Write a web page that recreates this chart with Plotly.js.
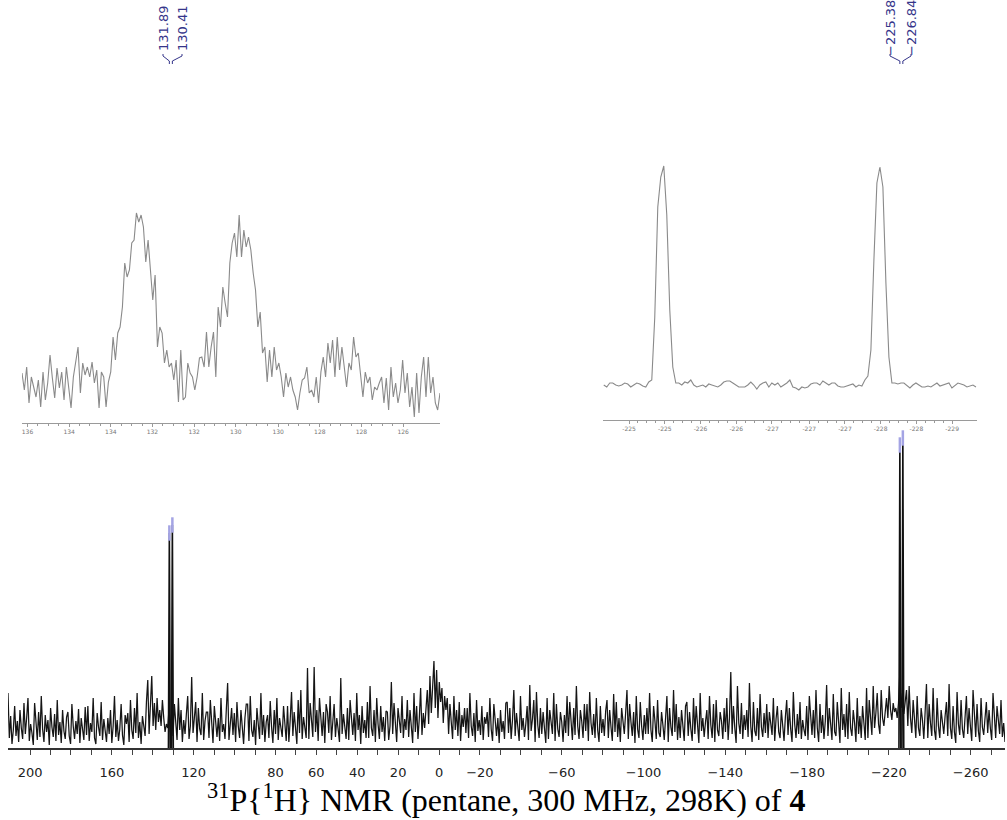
<!DOCTYPE html>
<html><head><meta charset="utf-8">
<script src="https://cdn.plot.ly/plotly-3.0.1.min.js"></script>
<style>html,body{margin:0;padding:0;background:#fff}#chart{width:1007px;height:820px}</style>
</head><body><div id="chart"></div>
<script>
// ---------- main spectrum ----------
const mainPpmStart = 210.8, mainPpmEnd = -276.8;
const mainIntensity = [
55,10,32,4,18,42,12,27,6,38,20,9,45,14,30, 50,7,24,15,3,45,28,8,36,11,52,19,6,33,16,
28,3,40,21,11,34,7,48,13,26,5,38,17,9,31, 36,12,4,44,22,9,27,14,39,5,30,18,8,41,13,
42,7,25,16,50,10,4,35,21,12,46,8,29,17,6, 30,14,38,5,22,52,11,28,7,19,44,13,3,33,24,
35,6,48,18,9,40,15,55,10,26,4,32,20,12,46, 68,14,40,72,22,45,18,50,26,38,22,48,30,16,24,
20,40,16,35,12,44,24,8,50,18,38,6,28,14,34, 52,9,22,71,15,30,46,6,40,19,13,55,8,27,36,
36,10,48,20,5,42,28,11,30,7,50,16,24,9,38, 65,8,25,40,13,35,6,46,22,10,38,15,4,30,44,
44,7,52,18,11,28,3,40,24,9,55,13,33,6,26, 33,10,47,21,5,38,14,50,8,30,17,11,42,25,7,
42,6,28,56,12,36,20,4,48,15,58,9,31,22,10, 80,9,45,24,11,81,16,38,7,50,27,12,36,5,44,
36,15,52,8,25,44,11,30,19,6,70,14,34,21,9, 40,8,48,26,13,35,7,55,18,33,4,42,15,28,10,
46,10,62,20,12,38,6,50,24,9,42,16,31,7,37, 36,8,22,66,14,45,19,6,40,27,15,52,10,29,18,
48,11,38,24,5,55,16,42,9,30,60,13,35,20,45, 58,24,72,35,62,87,40,78,30,66,46,60,25,52,38,
50,14,44,26,9,52,18,38,12,46,7,33,21,40,15, 40,10,55,22,12,35,6,48,17,28,13,42,8,31,24,
36,11,50,19,7,44,25,12,30,5,38,16,27,9,45, 46,15,40,9,28,58,12,35,21,7,52,18,30,11,24,
42,8,63,17,29,48,6,56,23,10,40,14,36,20,5, 50,9,38,24,14,55,7,44,19,11,36,26,6,33,15,
52,12,46,20,8,40,13,62,22,9,38,27,10,44,17, 44,7,56,25,13,34,10,50,18,6,42,15,29,12,37,
48,10,38,21,7,54,16,46,11,30,6,40,24,14,35, 58,9,44,26,12,36,5,52,19,10,46,22,8,33,14,
40,14,55,18,6,42,27,9,48,15,11,36,23,8,30, 52,6,40,21,12,58,16,44,8,31,10,38,25,7,42,
46,12,36,19,7,50,14,42,24,5,55,17,30,11,26, 38,9,52,23,10,44,6,48,18,12,36,27,9,40,16,
50,8,30,76,14,42,20,5,62,25,14,45,9,33,18, 38,11,65,22,6,46,17,12,40,8,54,21,11,35,15,
44,10,36,24,13,50,7,29,42,16,10,38,22,7,31, 48,13,40,19,6,56,24,10,34,14,46,9,28,18,12,
42,8,52,26,13,38,10,58,20,6,44,15,33,9,27, 63,12,40,22,8,54,16,12,46,26,5,60,18,34,11,
44,9,56,20,12,38,25,6,50,14,32,10,42,23,8, 60,10,48,28,13,62,20,35,55,24,14,58,30,22,40,
50,30,62,38,28,45,36,40,30,45,76,40,55,34,50, 58,22,62,30,15,48,26,10,52,20,12,40,28,9,36,
64,10,44,25,12,60,18,8,50,22,10,38,27,14,32, 46,12,64,20,9,42,16,5,56,24,13,48,19,10,34,
52,14,40,22,7,58,26,11,44,17,6,50,21,13,30, 46,15,38,20,8,55,24,10,42,28,14,48,11,25,6
];
const peakPpm = [131.89, 130.41, -225.38, -226.84];
const peakHeight = [215, 223, 303, 310];
const peakLabels = ["131.89", "130.41", "\u2212225.38", "\u2212226.84"];
const mainTickLabelVals = [200,160,120,80,60,40,20,0,-20,-60,-100,-140,-180,-220,-260];
const mainTickMin = -270, mainTickMax = 200, mainTickStep = 10;

// ---------- inset 1 (131 ppm region) ----------
const inset1PpmStart = 133.58, inset1PpmEnd = 127.46;
const inset1Intensity = [
50,33,56,20,46,36,26,43,16,51,23,40,68,45,25,55,35,51,23,56,33,15,46,63,76,30,60,48,56,46,61,40,53,15,51,46,16,41,
51,86,63,90,96,116,160,146,153,180, 183,210,201,208,196,161,183,153,123,148, 76,96,90,60,73,56,60,43,63,21,
73,23,26,60,50,46,33,46,65,66, 56,91,56,76,91,46,116,96,136,120, 106,160,180,190,166,208,166,193,176,186,
173,150,133,96,111,70,76,41,73,46, 76,53,60,46,26,50,36,46,33,26, 13,30,43,45,56,30,33,26,46,20,
51,66,46,80,60,83,46,86,53,76, 56,36,60,53,86,66,70,46,26,51, 40,46,23,36,33,40,46,20,45,13,
56,26,40,20,33,63,30,50,16,36, 6,50,10,46,66,26,66,30,46,20, 13,30
];
const inset1TickVals = [133.50,132.89,132.28,131.67,131.06,130.45,129.83,129.22,128.61,128.00];
const inset1TickText = ["136","134","134","132","132","130","130","128","128","126"];

// ---------- inset 2 (-226 ppm region) ----------
const inset2PpmStart = -224.98, inset2PpmEnd = -227.48;
const inset2Intensity = [
35,33,37,37,35,34,35,37,36,33, 35,37,36,34,33,38,40,103,213,243,
254,205,110,53,37,37,35,38,37,40, 35,33,34,35,33,36,35,34,33,35,
38,39,39,37,35,33,33,33,35,38, 35,31,35,37,38,33,37,35,37,33,
35,37,40,33,32,30,33,32,33,36, 37,37,35,39,37,35,37,37,34,33,
33,34,35,36,33,35,34,40,44,70, 160,237,253,233,137,63,37,37,36,37,
37,34,32,35,37,35,33,33,34,33, 35,37,34,35,36,37,32,35,37,36,
35,33,34,35,33
];
const inset2TickVals = [-225.15,-225.39,-225.63,-225.87,-226.11,-226.36,-226.60,-226.84,-227.08,-227.32];
const inset2TickText = ["-225","-225","-226","-226","-227","-227","-227","-228","-228","-229"];

// ---------- helpers ----------
function grid(a, b, n) { const o = []; for (let i = 0; i < n; i++) o.push(a + (b - a) * i / (n - 1)); return o; }
function minorBetween(vals, sub) {
  const tv = [];
  for (let i = 0; i < vals.length - 1; i++)
    for (let k = 1; k < sub; k++) tv.push(vals[i] + (vals[i+1] - vals[i]) * k / sub);
  return tv;
}

const mainX = grid(mainPpmStart, mainPpmEnd, mainIntensity.length);
const in1X = grid(inset1PpmStart, inset1PpmEnd, inset1Intensity.length);
const in2X = grid(inset2PpmStart, inset2PpmEnd, inset2Intensity.length);

const pkX = [], pkY = [];
const hw = 0.45;
peakPpm.forEach((p, i) => { pkX.push(p + hw, p, p - hw, null); pkY.push(0, peakHeight[i], 0, null); });

const mMinor = [];
for (let v = mainTickMax; v >= mainTickMin; v -= mainTickStep) if (!mainTickLabelVals.includes(v)) mMinor.push(v);
const mTT = mainTickLabelVals.map(v => v < 0 ? "\u2212" + Math.abs(v) : String(v));

const traces = [
  {x: mainX, y: mainIntensity, type: 'scatter', mode: 'lines', line: {color: '#151515', width: 1.25}, xaxis: 'x', yaxis: 'y', hoverinfo: 'skip'},
  {x: pkX, y: pkY, type: 'scatter', mode: 'lines', line: {color: '#111', width: 1.6}, xaxis: 'x', yaxis: 'y', hoverinfo: 'skip'},
  {x: peakPpm, y: peakHeight, type: 'scatter', mode: 'markers', marker: {symbol: 'line-ns', size: 11, line: {color: '#a4a4e4', width: 2.5}}, xaxis: 'x', yaxis: 'y', hoverinfo: 'skip'},
  {x: in1X, y: inset1Intensity, type: 'scatter', mode: 'lines', line: {color: '#8a8a8a', width: 1.1}, xaxis: 'x2', yaxis: 'y2', hoverinfo: 'skip'},
  {x: in2X, y: inset2Intensity, type: 'scatter', mode: 'lines', line: {color: '#8a8a8a', width: 1.1}, xaxis: 'x3', yaxis: 'y3', hoverinfo: 'skip'}
];

const W = 1007, H = 820, mL = 8, mR = 2, mT = 0, mB = 72;
const pw = W - mL - mR, ph = H - mT - mB;
const px2paperX = px => (px - mL) / pw;
const px2paperY = py => (ph - (py - mT)) / ph;
const ppm2paperX = p => (mainPpmStart - p) / (mainPpmStart - mainPpmEnd);

const insetAxisStyle = {
  showline: true, linecolor: '#9a9a9a', linewidth: 1, ticks: 'outside', ticklen: 3, tickcolor: '#9a9a9a',
  tickfont: {family: 'DejaVu Sans', size: 6, color: '#777'}, showgrid: false, zeroline: false, tickmode: 'array'
};
const insetMinor = {ticks: 'outside', ticklen: 2, tickcolor: '#9a9a9a', tickmode: 'array', showgrid: false};

const labelPx = [163, 182, 890, 911];
const annotations = [];
const shapes = [];
const navy = '#35358a';
peakLabels.forEach((t, i) => {
  annotations.push({text: t, xref: 'paper', yref: 'paper', x: px2paperX(labelPx[i]), y: px2paperY(28),
    textangle: -90, showarrow: false, xanchor: 'center', yanchor: 'middle',
    font: {family: 'DejaVu Sans', size: 13, color: navy}});
  const lx = px2paperX(labelPx[i]), pxp = ppm2paperX(peakPpm[i]);
  shapes.push({type: 'path', xref: 'paper', yref: 'paper',
    path: `M ${lx} ${px2paperY(54)} L ${lx} ${px2paperY(56)} L ${pxp} ${px2paperY(61)} L ${pxp} ${px2paperY(64)}`,
    line: {color: navy, width: 1}});
});
annotations.push({
  text: '<sup>31</sup>P{<sup>1</sup>H} NMR (pentane, 300 MHz, 298K) of <b>4</b>',
  xref: 'paper', yref: 'paper', x: px2paperX(506), y: px2paperY(798), xanchor: 'center', yanchor: 'middle',
  showarrow: false, font: {family: 'Liberation Serif', size: 32, color: '#000'}
});

const layout = {
  width: W, height: H, margin: {l: mL, r: mR, t: mT, b: mB, pad: 0},
  paper_bgcolor: '#fff', plot_bgcolor: 'rgba(0,0,0,0)', showlegend: false,
  xaxis: {domain: [0, 1], range: [mainPpmStart, mainPpmEnd], anchor: 'y', showline: true, linecolor: '#333', linewidth: 1.5,
    ticks: 'outside', ticklen: 5, tickcolor: '#444', tickwidth: 1, tickmode: 'array', tickvals: mainTickLabelVals, ticktext: mTT,
    minor: {ticks: 'outside', ticklen: 5, tickcolor: '#444', tickwidth: 1, tickmode: 'array', tickvals: mMinor, showgrid: false},
    ticklabelstandoff: 7, tickfont: {family: 'DejaVu Sans', size: 13, color: '#222'}, showgrid: false, zeroline: false},
  yaxis: {domain: [0, 1], range: [0, ph], visible: false, fixedrange: true},
  xaxis2: Object.assign({}, insetAxisStyle, {domain: [px2paperX(22), px2paperX(440)], range: [inset1PpmStart, inset1PpmEnd], anchor: 'y2',
    tickvals: inset1TickVals, ticktext: inset1TickText, minor: Object.assign({}, insetMinor, {tickvals: minorBetween(inset1TickVals, 4)})}),
  yaxis2: {domain: [px2paperY(423), px2paperY(200)], range: [0, 223], visible: false},
  xaxis3: Object.assign({}, insetAxisStyle, {domain: [px2paperX(603), px2paperX(977)], range: [-224.975, -227.487], anchor: 'y3',
    tickvals: inset2TickVals, ticktext: inset2TickText, minor: Object.assign({}, insetMinor, {tickvals: minorBetween(inset2TickVals, 4)})}),
  yaxis3: {domain: [px2paperY(420), px2paperY(150)], range: [0, 270], visible: false},
  annotations: annotations, shapes: shapes
};

Plotly.newPlot('chart', traces, layout, {displayModeBar: false, staticPlot: true});
</script></body></html>
